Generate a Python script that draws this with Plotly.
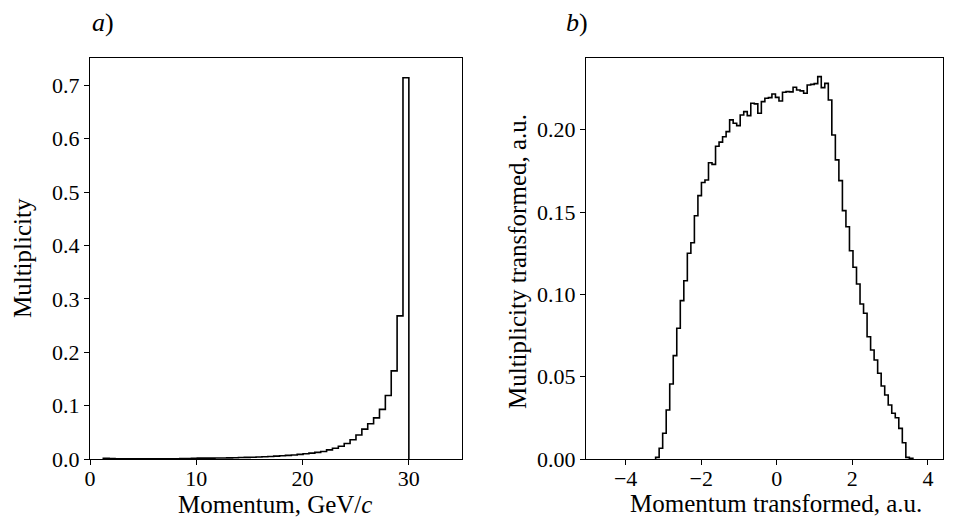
import numpy as np
import plotly.graph_objects as go

# ---------------- data ----------------
# Panel a): momentum histogram (52 equal bins from 1.25 to 30 GeV/c)
mom_bin_start = 1.25
mom_bin_stop = 30.0
mom_values = [
    0.0012, 0.0009, 0.0004, 0.0003, 0.0003, 0.0003, 0.0004, 0.0004, 0.0004, 0.0005,
    0.0005, 0.0006, 0.0006, 0.0007, 0.0008, 0.0015, 0.0016, 0.0016, 0.0017, 0.0018,
    0.0020, 0.0022, 0.0024, 0.0027, 0.0030, 0.0033, 0.0037, 0.0042, 0.0047, 0.0053,
    0.0060, 0.0068, 0.0076, 0.0086, 0.0097, 0.0110, 0.0125, 0.0140, 0.0170, 0.0200,
    0.0240, 0.0290, 0.0360, 0.0450, 0.0560, 0.0660, 0.0770, 0.0930, 0.1190, 0.1650,
    0.2680, 0.7140,
]

# Panel b): transformed momentum histogram (73 equal bins from -3.207 to 3.603)
tr_bin_start = -3.207
tr_bin_stop = 3.603
tr_values = [
    0.0010, 0.0065, 0.0156, 0.0298, 0.0456, 0.0628, 0.0794, 0.0962, 0.1083, 0.1250,
    0.1314, 0.1478, 0.1600, 0.1680, 0.1695, 0.1800, 0.1790, 0.1900, 0.1925, 0.1958,
    0.1989, 0.2060, 0.2040, 0.2025, 0.2090, 0.2110, 0.2086, 0.2161, 0.2157, 0.2100,
    0.2171, 0.2191, 0.2195, 0.2217, 0.2197, 0.2175, 0.2228, 0.2232, 0.2230, 0.2258,
    0.2242, 0.2236, 0.2222, 0.2272, 0.2276, 0.2280, 0.2323, 0.2256, 0.2282, 0.2181,
    0.1968, 0.1817, 0.1691, 0.1509, 0.1411, 0.1265, 0.1165, 0.1063, 0.0942, 0.0885,
    0.0743, 0.0662, 0.0601, 0.0521, 0.0443, 0.0389, 0.0328, 0.0278, 0.0251, 0.0186,
    0.0099, 0.0010, 0.0004,
]

left_yticks = [0.0, 0.1, 0.2, 0.3, 0.4, 0.5, 0.6, 0.7]
left_xticks = [0, 10, 20, 30]
right_yticks = [0.00, 0.05, 0.10, 0.15, 0.20]
right_xticks = [-4, -2, 0, 2, 4]


def step_xy(start, stop, values):
    edges = np.linspace(start, stop, len(values) + 1)
    xs = [edges[0]] + list(edges)
    ys = [0.0] + list(values) + [0.0]
    return xs, ys


# page body adds an 8px offset; figure is sized to fit the window
OFF = 8
W, H = 955 - OFF, 521 - OFF
FONT = "Liberation Serif"


def fx(p):
    return (p - OFF) / W


def fy(p):
    return 1 - (p - OFF) / H


mx, my = step_xy(mom_bin_start, mom_bin_stop, mom_values)
tx, ty = step_xy(tr_bin_start, tr_bin_stop, tr_values)

fig = go.Figure()
fig.add_trace(go.Scatter(x=mx, y=my, mode="lines", line=dict(color="black", width=1.6, shape="hv"),
                         xaxis="x", yaxis="y", showlegend=False, hoverinfo="skip"))
fig.add_trace(go.Scatter(x=tx, y=ty, mode="lines", line=dict(color="black", width=1.6, shape="hv"),
                         xaxis="x2", yaxis="y2", showlegend=False, hoverinfo="skip"))

axis_common = dict(showline=True, mirror=True, linecolor="black", linewidth=1.2,
                   ticks="outside", ticklen=5, tickwidth=1, tickcolor="black",
                   showgrid=False, zeroline=False, automargin=False,
                   tickfont=dict(family=FONT, size=22, color="black"))
xaxis_extra = dict(ticklabelstandoff=-6)

ydom = [fy(459), fy(57.5)]
fig.update_layout(
    template="none",
    width=W, height=H,
    margin=dict(l=0, r=0, t=0, b=0, pad=0),
    paper_bgcolor="white", plot_bgcolor="white",
    xaxis=dict(domain=[fx(90), fx(462)], range=[0, 35], tickvals=left_xticks,
               anchor="y", **axis_common, **xaxis_extra),
    yaxis=dict(domain=ydom, range=[0, 0.752], tickvals=left_yticks, tickformat=".1f",
               anchor="x", **axis_common),
    xaxis2=dict(domain=[fx(586), fx(943)], range=[-5.05, 4.4], tickvals=right_xticks,
                anchor="y2", **axis_common, **xaxis_extra),
    yaxis2=dict(domain=ydom, range=[0, 0.2439], tickvals=right_yticks, tickformat=".2f",
                anchor="x2", **axis_common),
)

title_font = dict(family=FONT, size=25, color="black")
ann = [
    dict(text="Momentum, GeV/<i>c</i>", x=fx(275), y=fy(504), xref="paper", yref="paper",
         xanchor="center", yanchor="middle", showarrow=False, font=title_font),
    dict(text="Momentum transformed, a.u.", x=fx(776), y=fy(503), xref="paper", yref="paper",
         xanchor="center", yanchor="middle", showarrow=False, font=title_font),
    dict(text="Multiplicity", x=fx(22), y=fy(258), xref="paper", yref="paper",
         xanchor="center", yanchor="middle", textangle=-90, showarrow=False, font=title_font),
    dict(text="Multiplicity transformed, a.u.", x=fx(517), y=fy(262), xref="paper", yref="paper",
         xanchor="center", yanchor="middle", textangle=-90, showarrow=False, font=title_font),
    dict(text="<i>a</i>)", x=fx(90), y=fy(22), xref="paper", yref="paper",
         xanchor="left", yanchor="middle", showarrow=False,
         font=dict(family=FONT, size=26, color="black")),
    dict(text="<i>b</i>)", x=fx(564), y=fy(22), xref="paper", yref="paper",
         xanchor="left", yanchor="middle", showarrow=False,
         font=dict(family=FONT, size=26, color="black")),
]
fig.update_layout(annotations=ann)

fig.write_html("out.html")
